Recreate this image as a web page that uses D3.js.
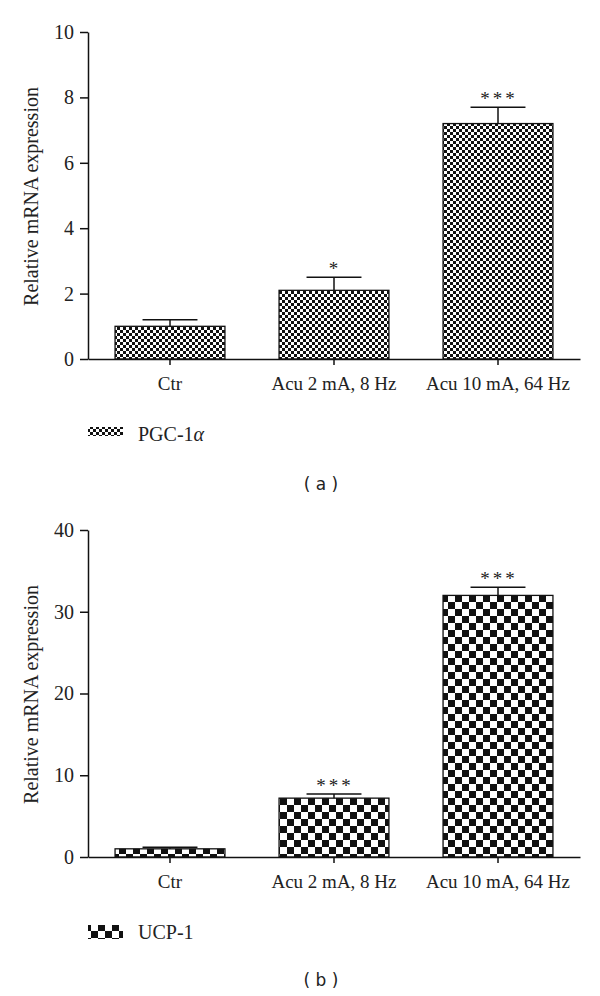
<!DOCTYPE html>
<html><head><meta charset="utf-8">
<script src="https://cdn.jsdelivr.net/npm/d3@7"></script>
<style>body{margin:0;background:#fff}svg{display:block}</style>
</head><body>
<svg id="c" width="600" height="996"></svg>
<script>
const categories = ["Ctr", "Acu 2 mA, 8 Hz", "Acu 10 mA, 64 Hz"];
const pgcValues = [1.0, 2.1, 7.2];
const pgcErrors = [0.2, 0.4, 0.5];
const pgcStars = ["", "*", "***"];
const pgcTicks = [0, 2, 4, 6, 8, 10];
const ucpValues = [1.0, 7.2, 32.0];
const ucpErrors = [0.2, 0.5, 1.0];
const ucpStars = ["", "***", "***"];
const ucpTicks = [0, 10, 20, 30, 40];

const svg = d3.select("#c");
const serif = "'Liberation Serif','DejaVu Serif',serif";
const defs = svg.append("defs");
function checker(id, s) {
  const p = defs.append("pattern").attr("id", id).attr("patternUnits", "userSpaceOnUse")
    .attr("width", 2*s).attr("height", 2*s);
  p.append("rect").attr("width", 2*s).attr("height", 2*s).attr("fill", "#fff");
  p.append("rect").attr("width", s).attr("height", s).attr("fill", "#111");
  p.append("rect").attr("x", s).attr("y", s).attr("width", s).attr("height", s).attr("fill", "#111");
}
checker("fine", 3);
checker("coarse", 7);

function panel(cfg) {
  const x = d3.scaleBand().domain(categories).range([88, 580]).paddingInner(0.33).paddingOuter(0.165);
  const y = d3.scaleLinear().domain([0, cfg.max]).range([cfg.y0, cfg.y1]);
  const g = svg.append("g");
  g.selectAll("rect.bar").data(cfg.values).enter().append("rect")
    .attr("x", (d,i) => x(categories[i])).attr("width", x.bandwidth())
    .attr("y", d => y(d)).attr("height", d => y(0) - y(d))
    .attr("fill", `url(#${cfg.pat})`).attr("stroke", "#111").attr("stroke-width", 1.3);
  cfg.values.forEach((v, i) => {
    const cx = x(categories[i]) + x.bandwidth()/2;
    const top = y(v + cfg.errors[i]);
    g.append("line").attr("x1", cx).attr("x2", cx).attr("y1", y(v)).attr("y2", top)
      .attr("stroke", "#111").attr("stroke-width", 1.5);
    g.append("line").attr("x1", cx - x.bandwidth()/4).attr("x2", cx + x.bandwidth()/4)
      .attr("y1", top).attr("y2", top).attr("stroke", "#111").attr("stroke-width", 1.5);
    if (cfg.stars[i]) {
      g.append("text").attr("x", cx + 1).attr("y", top - 2).attr("text-anchor", "middle")
        .attr("font-family", serif).attr("font-size", 19).attr("letter-spacing", 3)
        .attr("fill", "#222").text(cfg.stars[i]);
    }
  });
  const ya = g.append("g").attr("transform", "translate(88,0)")
    .call(d3.axisLeft(y).tickValues(cfg.ticks).tickSize(8).tickPadding(6).tickSizeOuter(0));
  ya.select(".domain").attr("stroke", "#111").attr("stroke-width", 1.5);
  ya.selectAll(".tick line").attr("stroke", "#111").attr("stroke-width", 1.5);
  ya.selectAll("text").attr("font-family", serif).attr("font-size", 20).attr("fill", "#222");
  const xa = g.append("g").attr("transform", `translate(0,${cfg.y0})`)
    .call(d3.axisBottom(x).tickSize(6).tickPadding(12).tickSizeOuter(0));
  xa.select(".domain").attr("stroke", "#111").attr("stroke-width", 1.5);
  xa.selectAll(".tick line").attr("stroke", "#111").attr("stroke-width", 1.5);
  xa.selectAll("text").attr("font-family", serif).attr("font-size", 19).attr("fill", "#222");
  g.append("text").attr("transform", `translate(38,${(cfg.y0 + cfg.y1)/2 + 1}) rotate(-90)`)
    .attr("text-anchor", "middle").attr("font-family", serif).attr("font-size", 20).attr("fill", "#222")
    .text("Relative mRNA expression");
  g.append("rect").attr("x", 88).attr("y", cfg.legY).attr("width", 35).attr("height", cfg.legH)
    .attr("fill", `url(#${cfg.pat})`);
  const lt = g.append("text").attr("x", 138).attr("y", cfg.legBase)
    .attr("font-family", serif).attr("font-size", 20).attr("fill", "#222");
  lt.append("tspan").text(cfg.label);
  if (cfg.alpha) lt.append("tspan").attr("font-style", "italic").text("α");
  g.append("text").attr("x", 321).attr("y", cfg.capY).attr("text-anchor", "middle")
    .attr("font-family", "'DejaVu Sans',sans-serif").attr("font-size", 17).attr("fill", "#222")
    .attr("xml:space", "preserve").text(cfg.caption);
}

panel({values: pgcValues, errors: pgcErrors, stars: pgcStars, ticks: pgcTicks, max: 10,
  y0: 359, y1: 32, pat: "fine", legY: 427, legH: 9, legBase: 441, label: "PGC-1", alpha: true, caption: "( a )", capY: 490});
panel({values: ucpValues, errors: ucpErrors, stars: ucpStars, ticks: ucpTicks, max: 40,
  y0: 857, y1: 530, pat: "coarse", legY: 925, legH: 14, legBase: 939, label: "UCP-1", alpha: false, caption: "( b )", capY: 986});
</script>
</body></html>
